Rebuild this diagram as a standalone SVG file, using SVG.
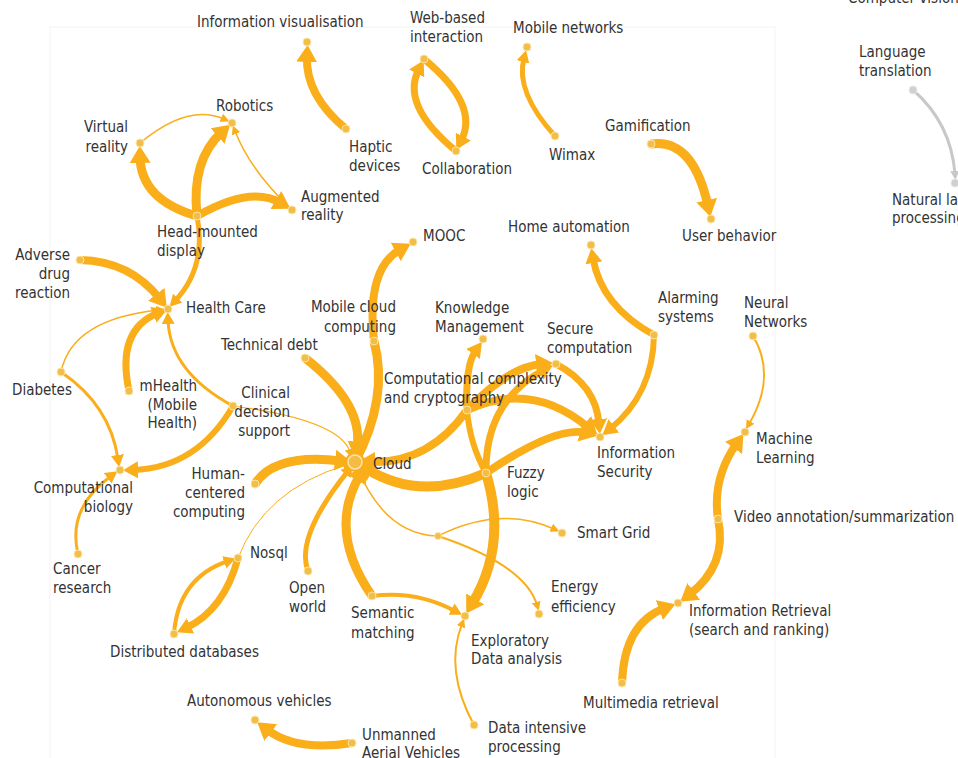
<svg xmlns="http://www.w3.org/2000/svg" width="958" height="758" viewBox="0 0 958 758">
<style>
.t{font-family:"DejaVu Sans Condensed","DejaVu Sans",sans-serif;font-stretch:condensed;font-size:15px;fill:#333}
.r{text-anchor:end}
.e{fill:none;stroke:#F9AE1A;stroke-linecap:butt}
.g{fill:none;stroke:#C8C8C8;stroke-linecap:butt}
.d{fill:#F2BE48;stroke:#FBE3A8;stroke-width:1}
.dg{fill:#D0D0D0;stroke:#E6E6E6;stroke-width:1}
</style>
<defs>
<marker id="a1" markerUnits="userSpaceOnUse" viewBox="0 -5 10 10" markerWidth="10" markerHeight="10" refX="3" refY="0" orient="auto"><path d="M0,-4.5L9,0L0,4.5Z" fill="#F9AE1A"/></marker>
<marker id="a2" markerUnits="userSpaceOnUse" viewBox="0 -7 13 14" markerWidth="13" markerHeight="14" refX="4" refY="0" orient="auto"><path d="M0,-6.5L12,0L0,6.5Z" fill="#F9AE1A"/></marker>
<marker id="a3" markerUnits="userSpaceOnUse" viewBox="0 -9 16 18" markerWidth="16" markerHeight="18" refX="5" refY="0" orient="auto"><path d="M0,-8.5L15,0L0,8.5Z" fill="#F9AE1A"/></marker>
<marker id="a4" markerUnits="userSpaceOnUse" viewBox="0 -11 18 22" markerWidth="18" markerHeight="22" refX="6" refY="0" orient="auto"><path d="M0,-10.5L17,0L0,10.5Z" fill="#F9AE1A"/></marker>
<marker id="ag" markerUnits="userSpaceOnUse" viewBox="0 -5 10 10" markerWidth="10" markerHeight="10" refX="3" refY="0" orient="auto"><path d="M0,-4.5L9,0L0,4.5Z" fill="#C8C8C8"/></marker>
</defs>
<rect x="0" y="0" width="958" height="758" fill="#ffffff"/>
<rect x="50" y="27" width="725" height="740" fill="none" stroke="#F4F4F4" stroke-width="1"/>
<g id="connectors">
<path class="e" stroke-width="8" marker-end="url(#a4)" d="M346,129 Q305,95 307,56"/>
<path class="e" stroke-width="7" marker-end="url(#a3)" d="M456,151 Q400,105 419,69"/>
<path class="e" stroke-width="7" marker-end="url(#a3)" d="M424,59 Q480,105 461,141"/>
<path class="e" stroke-width="5" marker-end="url(#a2)" d="M555,136 Q515,92 524,58"/>
<path class="e" stroke-width="9" marker-end="url(#a4)" d="M651,144 Q693,138 708,206"/>
<path class="g" stroke-width="3" marker-end="url(#ag)" d="M913,90 Q951,123 955,174"/>
<path class="e" stroke-width="9" marker-end="url(#a4)" d="M197,216 Q141,200 140,157"/>
<path class="e" stroke-width="9" marker-end="url(#a4)" d="M197,216 Q191,160 222,132"/>
<path class="e" stroke-width="8" marker-end="url(#a4)" d="M197,216 Q251,185 281,203"/>
<path class="e" stroke-width="1.5" marker-end="url(#a1)" d="M140,143 Q188,103 224,119"/>
<path class="e" stroke-width="1.5" marker-end="url(#a1)" d="M292,210 Q250,170 235,131"/>
<path class="e" stroke-width="5" marker-end="url(#a2)" d="M197,216 Q207,267 175,301"/>
<path class="e" stroke-width="8" marker-end="url(#a4)" d="M80,260 Q130,261 160,299"/>
<path class="e" stroke-width="1.5" marker-end="url(#a1)" d="M61,372 Q72,319 159,310"/>
<path class="e" stroke-width="7" marker-end="url(#a3)" d="M129,391 Q116,330 158,313"/>
<path class="e" stroke-width="3" marker-end="url(#a2)" d="M233,406 Q170,372 168,320"/>
<path class="e" stroke-width="3" marker-end="url(#a2)" d="M61,372 Q110,405 118,459"/>
<path class="e" stroke-width="6" marker-end="url(#a3)" d="M233,406 Q197,468 133,470"/>
<path class="e" stroke-width="3" marker-end="url(#a2)" d="M78,554 Q67,508 111,476"/>
<path class="e" stroke-width="1.2" marker-end="url(#a1)" d="M233,406 Q340,420 350,452"/>
<path class="e" stroke-width="9" marker-end="url(#a4)" d="M305,358 Q364,404 357,448"/>
<path class="e" stroke-width="9" marker-end="url(#a4)" d="M255,484 Q275,453 341,461"/>
<path class="e" stroke-width="1" marker-end="url(#a1)" d="M238,558 Q264,490 346,465"/>
<path class="e" stroke-width="5" marker-end="url(#a2)" d="M308,571 Q295,537 348,471"/>
<path class="e" stroke-width="9" marker-end="url(#a4)" d="M372,596 Q327,531 360,475"/>
<path class="e" stroke-width="4" marker-end="url(#a2)" d="M372,596 Q416,590 455,611"/>
<path class="e" stroke-width="10" marker-end="url(#a4)" d="M486,473 Q508,545 472,604"/>
<path class="e" stroke-width="2" marker-end="url(#a1)" d="M474,725 Q444,670 462,624"/>
<path class="e" stroke-width="1.5" d="M355,462 Q383,535 438,536"/>
<path class="e" stroke-width="1.5" marker-end="url(#a1)" d="M438,536 Q500,505 554,529"/>
<path class="e" stroke-width="2" marker-end="url(#a1)" d="M438,536 Q525,565 537,605"/>
<path class="e" stroke-width="10" marker-end="url(#a4)" d="M486,473 Q420,502 367,469"/>
<path class="e" stroke-width="8" marker-end="url(#a4)" d="M467,410 Q429,464 369,462"/>
<path class="e" stroke-width="8" marker-end="url(#a4)" d="M467,410 Q508,367 542,364"/>
<path class="e" stroke-width="8" marker-end="url(#a4)" d="M467,410 Q532,380 589,428"/>
<path class="e" stroke-width="7" marker-end="url(#a3)" d="M467,410 Q465,365 476,350"/>
<path class="e" stroke-width="7" marker-end="url(#a3)" d="M486,473 Q485,401 544,370"/>
<path class="e" stroke-width="6" d="M467,410 Q470,445 486,473"/>
<path class="e" stroke-width="8" marker-end="url(#a4)" d="M486,473 Q557,425 586,433"/>
<path class="e" stroke-width="7" marker-end="url(#a3)" d="M556,364 Q596,385 599,424"/>
<path class="e" stroke-width="7" marker-end="url(#a3)" d="M654,335 Q601,306 593,258"/>
<path class="e" stroke-width="6" marker-end="url(#a3)" d="M654,335 Q653,394 610,429"/>
<path class="e" stroke-width="2" marker-end="url(#a1)" d="M753,336 Q777,376 749,424"/>
<path class="e" stroke-width="8" marker-end="url(#a4)" d="M718,519 Q712,478 737,443"/>
<path class="e" stroke-width="8" marker-end="url(#a4)" d="M718,519 Q728,565 689,595"/>
<path class="e" stroke-width="8" marker-end="url(#a4)" d="M622,683 Q624,623 665,608"/>
<path class="e" stroke-width="7" marker-end="url(#a3)" d="M238,558 Q224,610 186,628"/>
<path class="e" stroke-width="4" marker-end="url(#a2)" d="M174,634 Q178,578 228,561"/>
<path class="e" stroke-width="8" marker-end="url(#a4)" d="M352,743 Q296,752 266,729"/>
<path class="e" stroke-width="9" d="M355,462 Q389,398 374,341"/>
<path class="e" stroke-width="8" marker-end="url(#a4)" d="M374,341 Q366,268 401,249"/>
</g>
<g id="n-infovis"><circle class="d" cx="307" cy="42" r="4"/><text class="t" x="197" y="27">Information visualisation</text></g>
<g id="n-robotics"><circle class="d" cx="232" cy="123" r="4"/><text class="t" x="216" y="111">Robotics</text></g>
<g id="n-vr"><circle class="d" cx="140" cy="143" r="4"/><text class="t r" x="128" y="132">Virtual</text><text class="t r" x="128" y="152">reality</text></g>
<g id="n-hmd"><circle class="d" cx="197" cy="216" r="4"/><text class="t" x="157" y="237">Head-mounted</text><text class="t" x="157" y="256">display</text></g>
<g id="n-ar"><circle class="d" cx="292" cy="210" r="4"/><text class="t" x="301" y="202">Augmented</text><text class="t" x="301" y="220">reality</text></g>
<g id="n-haptic"><circle class="d" cx="346" cy="129" r="4"/><text class="t" x="349" y="152">Haptic</text><text class="t" x="349" y="171">devices</text></g>
<g id="n-web"><circle class="d" cx="424" cy="59" r="4"/><text class="t" x="410" y="23">Web-based</text><text class="t" x="410" y="42">interaction</text></g>
<g id="n-collab"><circle class="d" cx="456" cy="151" r="4"/><text class="t" x="422" y="174">Collaboration</text></g>
<g id="n-mobnet"><circle class="d" cx="527" cy="47" r="4"/><text class="t" x="513" y="33">Mobile networks</text></g>
<g id="n-wimax"><circle class="d" cx="555" cy="136" r="4"/><text class="t" x="549" y="160">Wimax</text></g>
<g id="n-gamif"><circle class="d" cx="651" cy="144" r="4"/><text class="t" x="605" y="131">Gamification</text></g>
<g id="n-userbeh"><circle class="d" cx="711" cy="219" r="4"/><text class="t" x="682" y="241">User behavior</text></g>
<g id="n-compvis"><text class="t" x="848" y="3">Computer vision</text></g>
<g id="n-langtr"><circle class="dg" cx="913" cy="90" r="4"/><text class="t" x="859" y="57">Language</text><text class="t" x="859" y="76">translation</text></g>
<g id="n-nlp"><circle class="dg" cx="955" cy="183" r="4"/><text class="t" x="892" y="205">Natural language</text><text class="t" x="892" y="223">processing</text></g>
<g id="n-mooc"><circle class="d" cx="413" cy="242" r="4"/><text class="t" x="423" y="241">MOOC</text></g>
<g id="n-homeauto"><circle class="d" cx="591" cy="245" r="4"/><text class="t" x="508" y="232">Home automation</text></g>
<g id="n-mcc"><circle class="d" cx="374" cy="341" r="4"/><text class="t r" x="396" y="312">Mobile cloud</text><text class="t r" x="396" y="332">computing</text></g>
<g id="n-km"><circle class="d" cx="483" cy="339" r="4"/><text class="t" x="435" y="313">Knowledge</text><text class="t" x="435" y="332">Management</text></g>
<g id="n-secure"><circle class="d" cx="556" cy="364" r="4"/><text class="t" x="547" y="334">Secure</text><text class="t" x="547" y="353">computation</text></g>
<g id="n-alarm"><circle class="d" cx="654" cy="335" r="4"/><text class="t" x="658" y="303">Alarming</text><text class="t" x="658" y="322">systems</text></g>
<g id="n-nn"><circle class="d" cx="753" cy="336" r="4"/><text class="t" x="744" y="308">Neural</text><text class="t" x="744" y="327">Networks</text></g>
<g id="n-techdebt"><circle class="d" cx="305" cy="358" r="4"/><text class="t" x="221" y="350">Technical debt</text></g>
<g id="n-cc"><circle class="d" cx="467" cy="410" r="4"/><text class="t" x="384" y="384">Computational complexity</text><text class="t" x="384" y="403">and cryptography</text></g>
<g id="n-health"><circle class="d" cx="168" cy="309" r="4"/><text class="t" x="186" y="313">Health Care</text></g>
<g id="n-adr"><circle class="d" cx="80" cy="260" r="4"/><text class="t r" x="70" y="260">Adverse</text><text class="t r" x="70" y="279">drug</text><text class="t r" x="70" y="298">reaction</text></g>
<g id="n-diabetes"><circle class="d" cx="61" cy="372" r="4"/><text class="t" x="12" y="395">Diabetes</text></g>
<g id="n-mhealth"><circle class="d" cx="129" cy="391" r="4"/><text class="t r" x="197" y="391">mHealth</text><text class="t r" x="197" y="410">(Mobile</text><text class="t r" x="197" y="428">Health)</text></g>
<g id="n-cds"><circle class="d" cx="233" cy="406" r="4"/><text class="t r" x="290" y="398">Clinical</text><text class="t r" x="290" y="417">decision</text><text class="t r" x="290" y="436">support</text></g>
<g id="n-infosec"><circle class="d" cx="600" cy="437" r="4"/><text class="t" x="597" y="458">Information</text><text class="t" x="597" y="477">Security</text></g>
<g id="n-ml"><circle class="d" cx="745" cy="432" r="4"/><text class="t" x="756" y="444">Machine</text><text class="t" x="756" y="463">Learning</text></g>
<g id="n-cloud"><circle cx="355" cy="462" r="10" fill="#F9AE1A"/><circle cx="355" cy="462" r="7" fill="#F5BC45" stroke="#FCE6B0" stroke-width="1.5"/><text class="t" x="373" y="469">Cloud</text></g>
<g id="n-fuzzy"><circle class="d" cx="486" cy="473" r="4"/><text class="t" x="507" y="478">Fuzzy</text><text class="t" x="507" y="497">logic</text></g>
<g id="n-compbio"><circle class="d" cx="120" cy="470" r="4"/><text class="t r" x="133" y="493">Computational</text><text class="t r" x="133" y="512">biology</text></g>
<g id="n-hcc"><circle class="d" cx="255" cy="484" r="4"/><text class="t r" x="245" y="479">Human-</text><text class="t r" x="245" y="498">centered</text><text class="t r" x="245" y="517">computing</text></g>
<g id="n-video"><circle class="d" cx="718" cy="519" r="4"/><text class="t" x="734" y="522">Video annotation/summarization</text></g>
<g id="n-smartgrid"><circle class="d" cx="562" cy="533" r="4"/><text class="t" x="577" y="538">Smart Grid</text></g>
<g id="n-junction"><circle class="d" cx="438" cy="536" r="3.5"/></g>
<g id="n-cancer"><circle class="d" cx="78" cy="554" r="4"/><text class="t" x="53" y="574">Cancer</text><text class="t" x="53" y="593">research</text></g>
<g id="n-nosql"><circle class="d" cx="238" cy="558" r="4"/><text class="t" x="250" y="558">Nosql</text></g>
<g id="n-openworld"><circle class="d" cx="308" cy="571" r="4"/><text class="t" x="289" y="593">Open</text><text class="t" x="289" y="612">world</text></g>
<g id="n-energy"><circle class="d" cx="539" cy="614" r="4"/><text class="t" x="551" y="592">Energy</text><text class="t" x="551" y="612">efficiency</text></g>
<g id="n-semantic"><circle class="d" cx="372" cy="596" r="4"/><text class="t" x="351" y="618">Semantic</text><text class="t" x="351" y="638">matching</text></g>
<g id="n-eda"><circle class="d" cx="465" cy="616" r="4"/><text class="t" x="471" y="646">Exploratory</text><text class="t" x="471" y="664">Data analysis</text></g>
<g id="n-ir"><circle class="d" cx="678" cy="603" r="4"/><text class="t" x="689" y="616">Information Retrieval</text><text class="t" x="689" y="635">(search and ranking)</text></g>
<g id="n-distdb"><circle class="d" cx="174" cy="634" r="4"/><text class="t" x="110" y="657">Distributed databases</text></g>
<g id="n-multimedia"><circle class="d" cx="622" cy="683" r="4"/><text class="t" x="583" y="708">Multimedia retrieval</text></g>
<g id="n-autonomous"><circle class="d" cx="255" cy="720" r="4"/><text class="t" x="187" y="706">Autonomous vehicles</text></g>
<g id="n-uav"><circle class="d" cx="352" cy="743" r="4"/><text class="t" x="362" y="740">Unmanned</text><text class="t" x="362" y="758">Aerial Vehicles</text></g>
<g id="n-dip"><circle class="d" cx="474" cy="725" r="4"/><text class="t" x="488" y="733">Data intensive</text><text class="t" x="488" y="752">processing</text></g>
</svg>
